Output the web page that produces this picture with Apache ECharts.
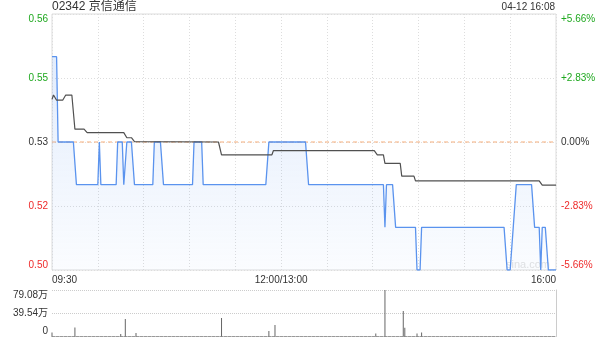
<!DOCTYPE html>
<html><head><meta charset="utf-8">
<script src="https://cdn.jsdelivr.net/npm/echarts@6/dist/echarts.min.js"></script>
<style>html,body{margin:0;padding:0;background:#fff}#c{width:608px;height:342px}</style>
</head><body><div id="c"></div>
<script>
const title = '02342 京信通信';
const stamp = '04-12 16:08';
const watermark = 'sina.com';
const prevClose = 0.53;
// minutes since 09:30 (trading minutes, lunch removed)
const priceMinutes = [0,3,4,14,16,30,31,32,42,43,46,47,48,49,52,54,66,67,71,73,92,93,98,99,140,142,166,168,217,218,219,223,225,238,239,241,242,296,298,300,302,304,314,316,319,320,321,323,325,330];
const priceValues  = [0.55,0.55,0.53,0.53,0.52,0.52,0.53,0.52,0.52,0.53,0.53,0.52,0.52,0.53,0.53,0.52,0.52,0.53,0.53,0.52,0.52,0.53,0.53,0.52,0.52,0.53,0.53,0.52,0.52,0.51,0.52,0.52,0.51,0.51,0.50,0.50,0.51,0.51,0.50,0.50,0.51,0.52,0.52,0.51,0.51,0.50,0.51,0.51,0.50,0.50];
const avgMinutes = [0,1,2,3,7,9,13,15,21,23,47,49,52,54,109,111,144,145,211,213,217,218,228,229,237,238,319,321,330];
const avgValues  = [0.5400,0.5410,0.5410,0.5398,0.5398,0.5410,0.5410,0.5330,0.5330,0.5322,0.5322,0.5310,0.5310,0.5301,0.5300,0.5270,0.5270,0.5280,0.5280,0.5270,0.5270,0.5250,0.5250,0.5220,0.5220,0.5209,0.5209,0.5199,0.5199];
const volMinutes = [0,15,45,48,55,111,142,146,212,218,230,231,239,242];
const volValues  = [7,15.3,4.2,29.7,6,31.4,9.5,19.7,5,79.08,43.5,15,5,7]; // 万
const priceTicks = [0.50,0.515,0.53,0.545,0.56];
const priceTickLabels = ['0.50','0.52','0.53','0.55','0.56'];
const pctTickLabels = ['-5.66%','-2.83%','0.00%','+2.83%','+5.66%'];
const volTicks = [0,39.54,79.08];
const volTickLabels = ['0','39.54万','79.08万'];
const timeTicks = [0,150,330];
const timeLabels = ['09:30','12:00/13:00','16:00'];

const FONT = '"Liberation Sans", Arial, "Noto Sans CJK SC", sans-serif';
const zip = (a,b) => a.map((x,i)=>[x,b[i]]);
const idxOf = (arr,v) => { let best=0; arr.forEach((t,i)=>{ if(Math.abs(t-v)<Math.abs(arr[best]-v)) best=i; }); return best; };
const tone = v => v > prevClose + 1e-9 ? 'up' : (v < prevClose - 1e-9 ? 'dn' : 'eq');
const rich = { up:{color:'#1fa81f',fontSize:10,fontFamily:FONT}, dn:{color:'#ee2b2b',fontSize:10,fontFamily:FONT}, eq:{color:'#333',fontSize:10,fontFamily:FONT} };

const chart = echarts.init(document.getElementById('c'), null, {renderer:'canvas'});
chart.setOption({
  animation:false,
  graphic:[
    {type:'text', left:52, top:1, style:{text:title, fill:'#333', font:'12px '+FONT}},
    {type:'text', right:53, top:2, style:{text:stamp, fill:'#333', font:'10px '+FONT}},
    {type:'text', left:506, top:259, z:0, style:{text:watermark, fill:'#e2e2e2', font:'11px '+FONT}}
  ],
  grid:[
    {left:52, right:52, top:14, height:256, show:true, borderColor:'#dcdcdc', borderWidth:1},
    {left:52, right:52, top:290, height:46.5}
  ],
  xAxis:[
    {type:'value', gridIndex:0, min:0, max:330, interval:30,
     axisLine:{show:false}, axisTick:{show:false},
     splitLine:{show:true, lineStyle:{color:'#ddd', type:[1,2]}},
     axisLabel:{customValues:timeTicks, color:'#333', fontSize:10, fontFamily:FONT, margin:5,
       alignMinLabel:'left', alignMaxLabel:'right',
       formatter:v => timeLabels[idxOf(timeTicks,v)]}},
    {type:'value', gridIndex:1, min:0, max:330, interval:30,
     axisLine:{show:true, lineStyle:{color:'#9a9a9a', type:[3,1]}}, axisTick:{show:false},
     splitLine:{show:false}, axisLabel:{show:false}}
  ],
  yAxis:[
    {type:'value', gridIndex:0, position:'left', min:0.50, max:0.56,
     axisLine:{show:false}, axisTick:{show:false, customValues:priceTicks},
     splitLine:{show:true, lineStyle:{color:'#ddd', type:[1,2]}},
     axisLabel:{customValues:priceTicks, margin:4, verticalAlignMinLabel:'bottom', verticalAlignMaxLabel:'top', rich:rich,
       formatter:v => { const i=idxOf(priceTicks,v); return '{'+tone(priceTicks[i])+'|'+priceTickLabels[i]+'}'; }}},
    {type:'value', gridIndex:0, position:'right', min:0.50, max:0.56,
     axisLine:{show:false}, axisTick:{show:false, customValues:priceTicks},
     splitLine:{show:false},
     axisLabel:{customValues:priceTicks, margin:5, verticalAlignMinLabel:'bottom', verticalAlignMaxLabel:'top', rich:rich,
       formatter:v => { const i=idxOf(priceTicks,v); return '{'+tone(priceTicks[i])+'|'+pctTickLabels[i]+'}'; }}},
    {type:'value', gridIndex:1, position:'left', min:0, max:79.08, interval:39.54,
     axisLine:{show:false}, axisTick:{show:false},
     splitLine:{show:true, lineStyle:{color:'#ccc', type:[1,1]}},
     axisLabel:{color:'#333', fontSize:10, fontFamily:FONT, margin:4, verticalAlignMinLabel:'bottom', verticalAlignMaxLabel:'top',
       formatter:v => volTickLabels[idxOf(volTicks,v)]}},
    {type:'value', gridIndex:1, position:'right', min:0, max:79.08,
     axisLine:{show:true, lineStyle:{color:'#ccc'}}, axisTick:{show:false},
     splitLine:{show:false}, axisLabel:{show:false}}
  ],
  series:[
    {type:'line', xAxisIndex:0, yAxisIndex:0, data:[[0,prevClose],[330,prevClose]], symbol:'none', silent:true, z:1,
     lineStyle:{color:'#f5ae7c', width:1, type:[4,3]}},
    {type:'line', xAxisIndex:0, yAxisIndex:0, data:zip(priceMinutes,priceValues), symbol:'none', z:2,
     lineStyle:{color:'#5a93ee', width:1.3},
     areaStyle:{origin:'start', color:new echarts.graphic.LinearGradient(0,0,0,1,[{offset:0,color:'rgba(91,149,240,0.24)'},{offset:1,color:'rgba(91,149,240,0.04)'}])}},
    {type:'line', xAxisIndex:0, yAxisIndex:0, data:zip(avgMinutes,avgValues), symbol:'none', z:3,
     lineStyle:{color:'#505050', width:1.2}},
    {type:'bar', xAxisIndex:1, yAxisIndex:2, data:zip(volMinutes,volValues), barWidth:1,
     itemStyle:{color:'#666'}}
  ]
});
</script></body></html>
